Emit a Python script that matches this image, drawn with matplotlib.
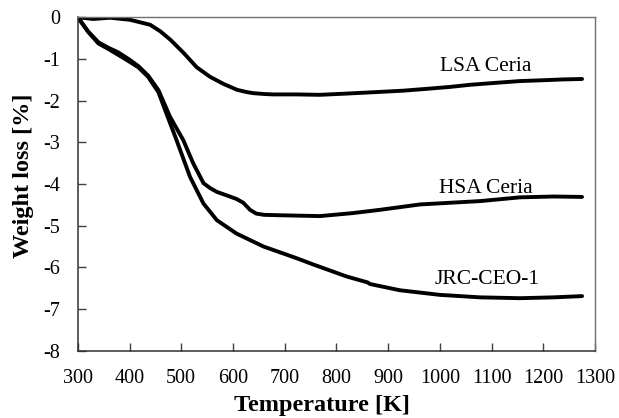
import matplotlib
matplotlib.use("Agg")
import matplotlib.pyplot as plt

# Data
lsa_T = [300, 330, 362, 401, 440, 460, 480, 505, 530, 556, 582, 608, 625, 639, 660, 677, 720,
         768, 820, 884, 930, 981, 1020, 1058, 1100, 1155, 1200, 1240, 1275]
lsa_w = [0, -0.04, -0.01, -0.06, -0.18, -0.34, -0.55, -0.86, -1.2, -1.43, -1.6, -1.74,
         -1.79, -1.82, -1.84, -1.85, -1.85, -1.86, -1.83, -1.79, -1.76, -1.71, -1.67, -1.62,
         -1.58, -1.53, -1.51, -1.49, -1.48]

hsa_T = [300, 320, 340, 359, 378, 398, 417, 436, 456, 478, 504, 523, 543, 556, 569, 594,
         607, 620, 633, 645, 660, 691, 768, 830, 884, 962, 1020, 1078, 1155, 1220, 1275]
hsa_w = [0, -0.34, -0.6, -0.73, -0.84, -1.0, -1.17, -1.4, -1.75, -2.38, -2.95, -3.5,
         -3.98, -4.1, -4.19, -4.3, -4.36, -4.45, -4.62, -4.71, -4.74, -4.75, -4.77, -4.7,
         -4.62, -4.49, -4.45, -4.41, -4.32, -4.3, -4.31]

jrc_T = [300, 320, 340, 359, 378, 398, 417, 436, 456, 465, 491, 517, 543, 569, 607,
         659, 723, 755, 820, 860, 865, 923, 1000, 1078, 1155, 1220, 1275]
jrc_w = [0, -0.35, -0.63, -0.76, -0.9, -1.05, -1.2, -1.43, -1.8, -2.1, -2.95, -3.83,
         -4.47, -4.87, -5.19, -5.5, -5.78, -5.93, -6.22, -6.36, -6.4, -6.55, -6.66,
         -6.72, -6.74, -6.72, -6.69]

labels = ["LSA Ceria", "HSA Ceria", "JRC-CEO-1"]
label_pos = [(1088, -1.19), (1088, -4.1), (1091, -6.3)]

x_ticks = list(range(300, 1301, 100))
y_ticks = list(range(-8, 1))

plt.rcParams['font.family'] = ['Liberation Serif', 'DejaVu Serif']

fig = plt.figure(figsize=(6.19, 4.18), dpi=100)
ax = fig.add_axes([0.1257, 0.161, 0.8355, 0.7976])

for T, w in [(lsa_T, lsa_w), (hsa_T, hsa_w), (jrc_T, jrc_w)]:
    ax.plot(T, w, color='black', lw=2.8, solid_capstyle='round', solid_joinstyle='round')

for lab, (x, y) in zip(labels, label_pos):
    ax.text(x, y, lab, ha='center', va='center', fontsize=15.5)

ax.set_xlim(300, 1300)
ax.set_ylim(-8, 0)
ax.set_xticks(x_ticks)
ax.set_xticklabels([str(t) for t in x_ticks])
ax.set_yticks(y_ticks)
ax.set_yticklabels([str(t) for t in y_ticks])
ax.tick_params(direction='in', length=6, width=1, labelsize=14.5, color='#404040',
               top=False, right=False)
ax.tick_params(axis='x', pad=13)
ax.tick_params(axis='y', pad=13)

for s in ['left', 'bottom']:
    ax.spines[s].set_color('#303030')
    ax.spines[s].set_linewidth(1.1)
for s in ['top', 'right']:
    ax.spines[s].set_color('#707070')
    ax.spines[s].set_linewidth(1.0)

ax.set_xlabel("Temperature [K]", fontsize=17.5, fontweight='bold')
ax.set_ylabel("Weight loss [%]", fontsize=17.5, fontweight='bold')
ax.xaxis.set_label_coords(0.472, -0.133)
ax.yaxis.set_label_coords(-0.085, 0.524)

fig.savefig("out.png", dpi=100)
